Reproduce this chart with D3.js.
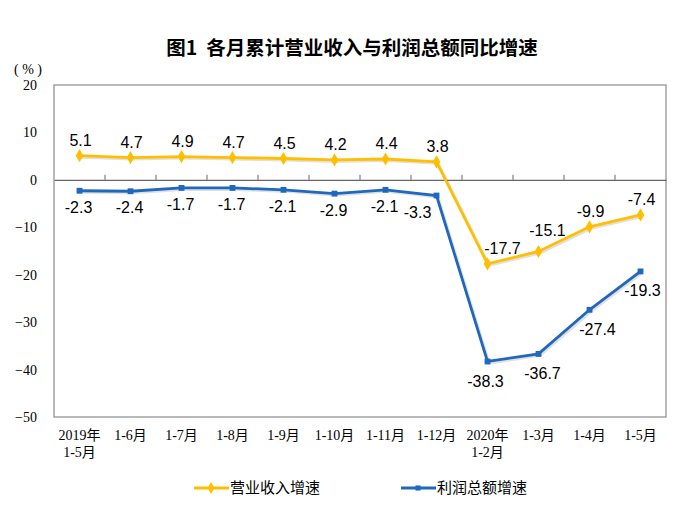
<!DOCTYPE html>
<html>
<head>
<meta charset="utf-8">
<script src="https://cdn.jsdelivr.net/npm/d3@7"></script>
<style>
  body { margin: 0; background: #fff; }
  svg text { fill: #000; }
</style>
</head>
<body>
<div class="chart"></div>
<script>
const svgWidth = 700
const svgHeight = 506

let margin = { top: 85, right: 34, bottom: 89, left: 54 }
let width = svgWidth - margin.left - margin.right
let height = svgHeight - margin.top - margin.bottom

// data
const categories = ["2019年\n1-5月", "1-6月", "1-7月", "1-8月", "1-9月", "1-10月", "1-11月", "1-12月", "2020年\n1-2月", "1-3月", "1-4月", "1-5月"]
const revenue = [5.1, 4.7, 4.9, 4.7, 4.5, 4.2, 4.4, 3.8, -17.7, -15.1, -9.9, -7.4]
const profit = [-2.3, -2.4, -1.7, -1.7, -2.1, -2.9, -2.1, -3.3, -38.3, -36.7, -27.4, -19.3]
const yTicks = [20, 10, 0, -10, -20, -30, -40, -50]
const seriesNames = ["营业收入增速", "利润总额增速"]

const revColor = "#FFBF00"
const proColor = "#1F68BE"

let svg = d3.select(".chart").append("svg")
  .attr("width", svgWidth)
  .attr("height", svgHeight)

svg.append("text")
  .attr("x", 352).attr("y", 55)
  .attr("text-anchor", "middle")
  .style("font-family", "'Noto Sans CJK SC', sans-serif")
  .style("font-size", "19.5px")
  .style("font-weight", "bold")
  .text("图1\u00a0\u00a0各月累计营业收入与利润总额同比增速")

svg.append("text")
  .attr("x", 28).attr("y", 74)
  .attr("text-anchor", "middle")
  .style("font-family", "'Liberation Serif', serif")
  .style("font-size", "14px")
  .text("(\u00a0%\u00a0)")

let chartGroup = svg.append("g")
  .attr("transform", `translate(${margin.left}, ${margin.top})`)

let x = d3.scaleBand().domain(categories).range([0, width])
let y = d3.scaleLinear().domain([-50, 20]).range([height, 0])

// frame
chartGroup.append("rect")
  .attr("width", width).attr("height", height)
  .attr("fill", "none").attr("stroke", "#8a8a8a").attr("stroke-width", 1.2)

// y axis
let leftAxis = d3.axisLeft(y).tickValues(yTicks).tickSize(0).tickPadding(17)
let yAxis = chartGroup.append("g").call(leftAxis)
yAxis.select(".domain").remove()
yAxis.selectAll("text")
  .style("font-family", "'Liberation Serif', serif")
  .style("font-size", "14px")

// zero line with category ticks
let zeroAxis = d3.axisTop(x).tickSize(0).tickFormat("")
let zeroG = chartGroup.append("g")
  .attr("transform", `translate(0, ${y(0)})`)
  .call(zeroAxis)
zeroG.select(".domain").attr("stroke", "#666").attr("stroke-width", 1.2)
zeroG.selectAll(".tick").remove()
zeroG.selectAll(".sep")
  .data(categories.slice(1))
  .enter().append("line")
  .attr("x1", d => x(d)).attr("x2", d => x(d))
  .attr("y1", 0).attr("y2", -5)
  .attr("stroke", "#666")

// x labels
let xLabels = chartGroup.append("g")
  .attr("transform", `translate(0, ${height + 23})`)
xLabels.selectAll("text")
  .data(categories)
  .enter().append("text")
  .attr("x", d => x(d) + x.bandwidth() / 2)
  .attr("text-anchor", "middle")
  .style("font-family", "'Liberation Serif', 'Noto Sans CJK SC', serif")
  .style("font-size", "14px")
  .each(function(d) {
    let parts = d.split("\n")
    d3.select(this).selectAll("tspan")
      .data(parts)
      .enter().append("tspan")
      .attr("x", x(d) + x.bandwidth() / 2)
      .attr("dy", (p, i) => i === 0 ? 0 : 17)
      .text(p => p)
  })

let cx = i => x(categories[i]) + x.bandwidth() / 2

let line = d3.line()
  .x((d, i) => cx(i))
  .y(d => y(d))

function drawSeries(values, color, shape, size) {
  let g = chartGroup.append("g")
  // soft shadow
  g.append("path")
    .datum(values)
    .attr("d", line)
    .attr("transform", "translate(1.5, 1.5)")
    .attr("fill", "none")
    .attr("stroke", "#000")
    .attr("stroke-opacity", 0.12)
    .attr("stroke-width", 3)
  g.append("path")
    .datum(values)
    .attr("d", line)
    .attr("fill", "none")
    .attr("stroke", color)
    .attr("stroke-width", 2.8)
  g.selectAll(".pt")
    .data(values)
    .enter().append("path")
    .attr("d", d3.symbol().type(shape).size(size))
    .attr("transform", (d, i) => `translate(${cx(i)}, ${y(d)})`)
    .attr("fill", color)
  return g
}

let revG = drawSeries(revenue, revColor, d3.symbolDiamond, 50)
let proG = drawSeries(profit, proColor, d3.symbolSquare, 34)

let labelStyle = sel => sel
  .attr("text-anchor", "middle")
  .style("font-family", "'Liberation Sans', Arial, sans-serif")
  .style("font-size", "16px")

// label nudges, chosen to avoid the lines like the original does
let revDx = i => i === 8 ? 15 : i === 9 ? 9 : 1
let revDy = i => i === 9 ? -15 : -10
let proDx = i => i === 7 ? -19 : i === 8 ? -2 : i === 9 ? 4 : i === 10 ? 8 : i === 11 ? 2 : -1
let proDy = i => i >= 8 ? 25 : 22

revG.selectAll(".lbl")
  .data(revenue)
  .enter().append("text")
  .call(labelStyle)
  .attr("x", (d, i) => cx(i) + revDx(i))
  .attr("y", (d, i) => y(d) + revDy(i))
  .text(d => d.toFixed(1))

proG.selectAll(".lbl")
  .data(profit)
  .enter().append("text")
  .call(labelStyle)
  .attr("x", (d, i) => cx(i) + proDx(i))
  .attr("y", (d, i) => y(d) + proDy(i))
  .text(d => d.toFixed(1))

// legend
let legend = svg.append("g").attr("transform", `translate(0, 488)`)
let legendItems = [
  { name: seriesNames[0], color: revColor, shape: d3.symbolDiamond, size: 40, x: 194 },
  { name: seriesNames[1], color: proColor, shape: d3.symbolSquare, size: 26, x: 401 }
]
legendItems.forEach(it => {
  legend.append("line")
    .attr("x1", it.x).attr("x2", it.x + 35)
    .attr("stroke", it.color).attr("stroke-width", 2.8)
  legend.append("path")
    .attr("d", d3.symbol().type(it.shape).size(it.size))
    .attr("transform", `translate(${it.x + 17}, 0)`)
    .attr("fill", it.color)
  legend.append("text")
    .attr("x", it.x + 36).attr("y", 5)
    .style("font-family", "'Noto Sans CJK SC', sans-serif")
    .style("font-size", "15px")
    .text(it.name)
})
</script>
</body>
</html>
